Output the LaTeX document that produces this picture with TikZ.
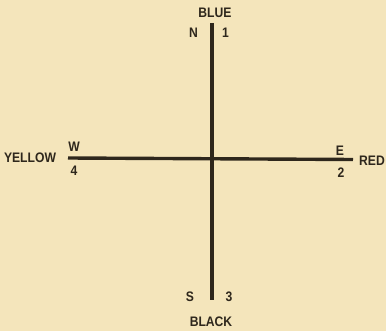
\documentclass[tikz,border=0pt]{standalone}
\usepackage{fontspec}
\setmainfont{Liberation Sans}[FakeStretch=0.88]
\definecolor{paper}{HTML}{F4E5BB}
\definecolor{ink}{HTML}{2E271C}
\begin{document}
\begin{tikzpicture}[x=1pt,y=-1pt,
  lbl/.style={text=ink,font=\fontsize{13.8}{14}\selectfont\bfseries,inner sep=0pt},
  axis/.style={draw=ink,line width=3.4pt}]
\fill[paper] (0,0) rectangle (386,331);
\useasboundingbox (0,0) rectangle (386,331);
\coordinate (top) at (212,23);
\coordinate (bot) at (212,300);
\coordinate (left) at (68,158);
\coordinate (right) at (353,159.5);
\draw[axis] (top) -- (bot);
\draw[axis] (left) -- (right);
\node[lbl] (blue) at (215,13) {BLUE};
\node[lbl] (n) at (193.5,33) {N};
\node[lbl] (one) at (225.5,33) {1};
\node[lbl] (yellow) at (30,158) {YELLOW};
\node[lbl] (w) at (74,147) {W};
\node[lbl] (four) at (74,171) {4};
\node[lbl] (e) at (340,151) {E};
\node[lbl] (two) at (341,173) {2};
\node[lbl] (red) at (372,161) {RED};
\node[lbl] (s) at (190,297) {S};
\node[lbl] (three) at (229,297) {3};
\node[lbl] (black) at (211,322) {BLACK};
\end{tikzpicture}
\end{document}
